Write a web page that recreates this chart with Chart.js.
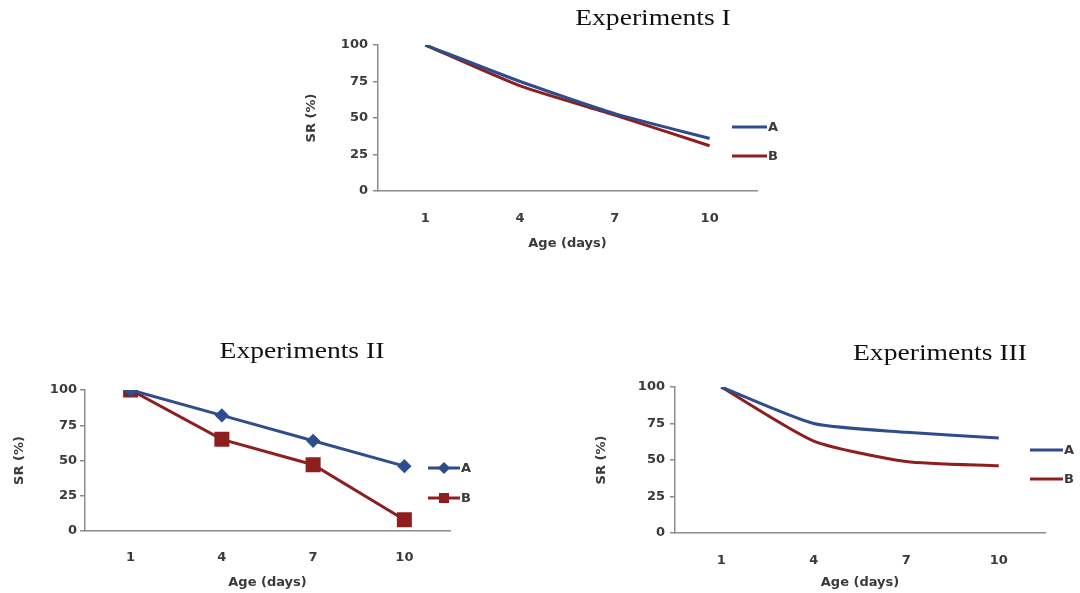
<!DOCTYPE html>
<html>
<head>
<meta charset="utf-8">
<script src="https://cdn.jsdelivr.net/npm/chart.js@4"></script>
<style>
  body { margin: 0; background: #fff; width: 1080px; height: 593px; position: relative; overflow: hidden; }
  canvas { position: absolute; }
</style>
</head>
<body>
<canvas id="exp1" width="500" height="260" style="left:300px;top:0px"></canvas>
<canvas id="exp2" width="530" height="253" style="left:0px;top:340px"></canvas>
<canvas id="exp3" width="490" height="253" style="left:590px;top:340px"></canvas>
<script>
const ages = ['1', '4', '7', '10'];

const exp1A = [100, 75, 53, 36];
const exp1B = [100, 72, 52, 31];

const exp2A = [100, 82, 64, 46];
const exp2B = [100, 65, 47, 8];

const exp3A = [100, 75, 69, 65];
const exp3B = [100, 63, 49, 46];

const seriesNames = ['A', 'B'];
const blue = '#2f4d8c';
const red = '#8e1f1f';
const axisGrey = '#8c8c8c';
const textGrey = '#3a3a3a';
const sans = '"DejaVu Sans", Arial, sans-serif';

// title + legend drawn beside the plot like the excel original
const decor = {
  id: 'decor',
  afterDraw(chart, args, opts) {
    const ctx = chart.ctx;
    ctx.save();
    ctx.fillStyle = '#111';
    ctx.font = '23px "Liberation Serif", "Times New Roman", serif';
    ctx.textAlign = 'center';
    ctx.textBaseline = 'alphabetic';
    ctx.translate(opts.titleX, opts.titleY);
    ctx.scale(1.2, 1);
    ctx.fillText(opts.title, 0, 0);
    ctx.restore();

    chart.data.datasets.forEach((ds, i) => {
      const y = opts.legendY[i];
      const x0 = opts.legendX, x1 = opts.legendX + opts.legendLen;
      ctx.save();
      ctx.strokeStyle = ds.borderColor;
      ctx.lineWidth = 3;
      ctx.beginPath();
      ctx.moveTo(x0, y);
      ctx.lineTo(x1, y);
      ctx.stroke();
      if (ds.pointRadius > 0) {
        Chart.helpers.drawPoint(ctx, {
          pointStyle: ds.pointStyle,
          radius: ds.pointStyle === 'rect' ? 5 : 4,
          borderWidth: 1
        }, (x0 + x1) / 2, y);
        ctx.fillStyle = ds.borderColor;
        ctx.fill();
      }
      ctx.fillStyle = textGrey;
      ctx.font = 'bold 13px ' + sans;
      ctx.textAlign = 'left';
      ctx.textBaseline = 'middle';
      ctx.fillText(ds.label, x1 + 1, y + 1);
      ctx.restore();
    });
  }
};

function makeChart(id, a, b, o) {
  const tickFont = { family: sans, size: 13, weight: 'bold' };
  new Chart(document.getElementById(id), {
    type: 'line',
    data: {
      labels: ages,
      datasets: [
        {
          label: seriesNames[0], data: a, borderColor: blue, backgroundColor: blue,
          borderWidth: 3, tension: o.tension,
          pointStyle: 'rectRot', pointRadius: o.markers ? 5 : 0
        },
        {
          label: seriesNames[1], data: b, borderColor: red, backgroundColor: red,
          borderWidth: 3, tension: o.tension,
          pointStyle: 'rect', pointRadius: o.markers ? 8.5 : 0
        }
      ]
    },
    options: {
      responsive: false,
      animation: false,
      layout: { padding: { left: 0, top: o.top, right: o.right, bottom: 0 } },
      plugins: {
        legend: { display: false },
        tooltip: { enabled: false },
        decor: o.decor
      },
      scales: {
        x: {
          offset: true,
          grid: { display: false },
          border: { display: true, color: axisGrey, width: 1.5 },
          ticks: { color: textGrey, font: tickFont, padding: o.xPad, maxRotation: 0 },
          title: { display: true, text: 'Age (days)', color: textGrey, font: tickFont, padding: { top: 0, bottom: o.xTitlePad } },
          afterFit: s => { s.height = o.xHeight; }
        },
        y: {
          min: 0, max: 100,
          ticks: { stepSize: 25, color: textGrey, font: tickFont, padding: o.yPad },
          grid: { display: true, drawOnChartArea: false, drawTicks: true, tickLength: 5, color: axisGrey, lineWidth: 1.5 },
          border: { display: true, color: axisGrey, width: 1.5 },
          title: { display: true, text: 'SR (%)', color: textGrey, font: tickFont, padding: { top: o.yTitlePad, bottom: 0 } },
          afterFit: s => { s.width = o.yWidth; }
        }
      }
    },
    plugins: [decor]
  });
}

makeChart('exp1', exp1A, exp1B, {
  tension: 0.2, markers: false,
  top: 45, right: 43, xHeight: 69, yWidth: 78,
  xPad: 12, xTitlePad: 9, yPad: 5, yTitlePad: 4,
  decor: { title: 'Experiments I', titleX: 353, titleY: 25, legendX: 432, legendLen: 35, legendY: [127, 156] }
});

makeChart('exp2', exp2A, exp2B, {
  tension: 0, markers: true,
  top: 50, right: 80, xHeight: 62, yWidth: 85,
  xPad: 11, xTitlePad: 3, yPad: 3, yTitlePad: 12,
  decor: { title: 'Experiments II', titleX: 302, titleY: 18, legendX: 428, legendLen: 32, legendY: [128, 158] }
});

makeChart('exp3', exp3A, exp3B, {
  tension: 0.2, markers: false,
  top: 47, right: 35, xHeight: 60, yWidth: 85,
  xPad: 12, xTitlePad: 3, yPad: 5, yTitlePad: 4,
  decor: { title: 'Experiments III', titleX: 350, titleY: 20, legendX: 440, legendLen: 33, legendY: [110, 139] }
});
</script>
</body>
</html>
